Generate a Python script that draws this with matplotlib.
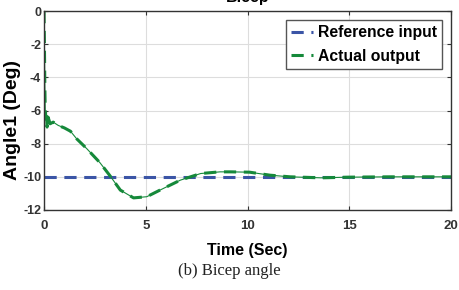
import matplotlib.pyplot as plt

t_ref = [0, 20]
ref = [-10, -10]

t_out = [0, 0.02, 0.04, 0.06, 0.09, 0.12, 0.15, 0.2, 0.3, 0.45, 0.7, 1.0, 1.3, 1.6,
         2.1, 2.75, 3.25, 3.75, 4.4, 5.05, 5.7, 6.7, 7.7, 8.65, 9.15, 10.1, 11.1,
         12.1, 13.6, 15.0, 17.0, 20.0]
out = [0, -2.0, -4.5, -6.0, -6.5, -6.1, -7.0, -6.4, -6.8, -6.7, -6.9, -7.05, -7.25, -7.7,
       -8.3, -9.15, -9.95, -10.8, -11.27, -11.2, -10.8, -10.2, -9.8, -9.7, -9.7, -9.72, -9.9,
       -10.0, -10.06, -10.02, -10.0, -10.0]

blue = '#3b55a6'
green = '#15893a'

plt.rcParams['font.family'] = ['Liberation Sans', 'DejaVu Sans']
plt.rcParams['axes.unicode_minus'] = False

fig = plt.figure(figsize=(4.59, 2.90), dpi=100)
ax = fig.add_axes([0.0959, 0.2759, 0.8867, 0.6861])

ax.plot(t_ref, ref, '--', color=blue, lw=2.2, dashes=(4, 2.5), label='Reference input')
ax.plot(t_out, out, '-', color=green, lw=0.8)
ax.plot(t_out, out, '--', color=green, lw=2.2, dashes=(4, 2.5), label='Actual output')

ax.set_xlim(0, 20)
ax.set_ylim(-12, 0)
ax.set_xticks([0, 5, 10, 15, 20])
ax.set_yticks([-12, -10, -8, -6, -4, -2, 0])
ax.grid(True, color='#dddddd', lw=0.8)
ax.tick_params(direction='in', top=True, right=True, length=3, color='#333333',
               labelsize=9.5, labelcolor='#333333')
ax.tick_params(axis='x', pad=7)
ax.tick_params(axis='y', pad=2, labelsize=9)
for lab in ax.get_xticklabels() + ax.get_yticklabels():
    lab.set_fontweight('bold')
for s in ax.spines.values():
    s.set_color('#333333')
    s.set_linewidth(1.0)

ax.set_xlabel('Time (Sec)', fontsize=11.5, fontweight='bold', labelpad=8)
ax.set_ylabel('Angle1 (Deg)', fontsize=14, fontweight='bold')
ax.yaxis.set_label_coords(-0.057, 0.452)
ax.set_title('Bicep', fontsize=11.5, fontweight='bold', y=1.005)

leg = ax.legend(loc='upper right', fontsize=11.3, handlelength=1.4, handletextpad=0.3,
                borderpad=0.35, labelspacing=0.55, fancybox=False, framealpha=1,
                borderaxespad=0.55)
leg.get_frame().set_edgecolor('#555555')
for txt in leg.get_texts():
    txt.set_fontweight('bold')

fig.text(0.5, 0.065, '(b) Bicep angle', ha='center', va='center', fontsize=12,
         family=['Liberation Serif', 'DejaVu Serif'], color='#222222')

fig.savefig('out.png', dpi=100)
